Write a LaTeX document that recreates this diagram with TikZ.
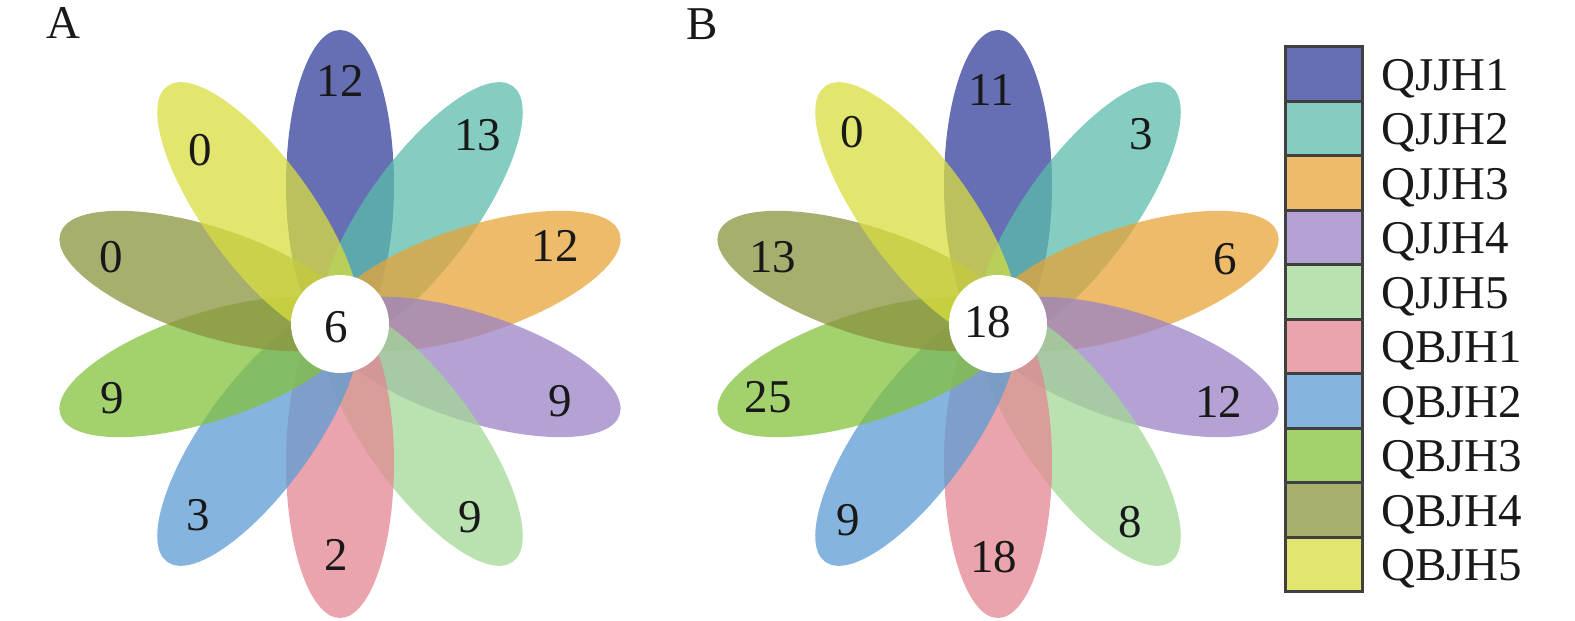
\documentclass[tikz,border=0pt]{standalone}
\usepackage{fontspec}
\setmainfont{Liberation Serif}
\usetikzlibrary{calc}
% petal base colours (drawn with transparency)
\definecolor{c1}{RGB}{51,62,155}
\definecolor{c2}{RGB}{91,188,171}
\definecolor{c3}{RGB}{231,164,56}
\definecolor{c4}{RGB}{155,131,198}
\definecolor{c5}{RGB}{163,216,150}
\definecolor{c6}{RGB}{228,134,147}
\definecolor{c7}{RGB}{92,156,211}
\definecolor{c8}{RGB}{132,194,60}
\definecolor{c9}{RGB}{139,147,62}
\definecolor{c10}{RGB}{216,222,62}
% legend colours (solid)
\definecolor{l1}{RGB}{102,110,180}
\definecolor{l2}{RGB}{132,205,192}
\definecolor{l3}{RGB}{237,187,106}
\definecolor{l4}{RGB}{180,162,212}
\definecolor{l5}{RGB}{186,226,176}
\definecolor{l6}{RGB}{235,164,174}
\definecolor{l7}{RGB}{133,181,222}
\definecolor{l8}{RGB}{163,209,109}
\definecolor{l9}{RGB}{168,174,110}
\definecolor{l10}{RGB}{226,230,110}
\begin{document}
\begin{tikzpicture}[x=0.5pt,y=0.5pt,
  font=\fontsize{23.5}{28}\selectfont,
  num/.style={inner sep=0pt, anchor=center, text=black!90},
  legtext/.style={inner sep=0pt, anchor=base west, text=black!90},
  swatch/.style={fill=#1, draw=black!75, line width=1.5}]
\useasboundingbox (0,0) rectangle (1575,621);
\coordinate (A) at (340,297);
\coordinate (B) at (998,297);
% petals
\foreach \ctr in {A,B}{
  \foreach \c/\ang in {c1/90,c2/54,c3/18,c4/-18,c5/-54,c6/-90,c7/-126,c8/-162,c9/162,c10/126}{
    \fill[\c, fill opacity=.75, shift={(\ctr)}, rotate=\ang] (139,0) ellipse [x radius=155, y radius=54];
  }
  \fill[white] (\ctr) circle [radius=49];
}
% panel letters
\node[num] (labA) at (63,598) {A};
\node[num] (labB) at (702,597) {B};
% numbers, flower A
\node[num] (a0) at (336,293.5) {6};
\node[num] (a1) at ($(A)+(90:243)$) {12};
\node[num] (a2) at ($(A)+(53.9:234)$) {13};
\node[num] (a3) at ($(A)+(20:229)$) {12};
\node[num] (a4) at ($(A)+(-19.3:233)$) {9};
\node[num] (a5) at ($(A)+(-56:233)$) {9};
\node[num] (a6) at ($(A)+(-91:231)$) {2};
\node[num] (a7) at ($(A)+(-126.6:238)$) {3};
\node[num] (a8) at ($(A)+(-162:239)$) {9};
\node[num] (a9) at ($(A)+(163.6:238)$) {0};
\node[num] (a10) at ($(A)+(128.8:223)$) {0};
% numbers, flower B
\node[num] (b0) at (987.5,299) {18};
\node[num] (b1) at ($(B)+(91.7:234)$) {11};
\node[num] (b2) at ($(B)+(53:238)$) {3};
\node[num] (b3) at ($(B)+(16:236)$) {6};
\node[num] (b4) at ($(B)+(-19.5:234)$) {12};
\node[num] (b5) at ($(B)+(-56.3:238)$) {8};
\node[num] (b6) at ($(B)+(-91:233)$) {18};
\node[num] (b7) at ($(B)+(-127.4:247)$) {9};
\node[num] (b8) at ($(B)+(-162.4:241)$) {25};
\node[num] (b9) at ($(B)+(163.4:235)$) {13};
\node[num] (b10) at ($(B)+(127.2:241)$) {0};
% legend
\foreach \i/\name in {1/QJJH1,2/QJJH2,3/QJJH3,4/QJJH4,5/QJJH5,6/QBJH1,7/QBJH2,8/QBJH3,9/QBJH4,10/QBJH5}{
  \path[swatch=l\i] (1285,{574-54.5*(\i-1)}) rectangle (1362,{574-54.5*\i});
  \node[legtext] (t\i) at (1381,{574-54.5*(\i-1)-27.25-16}) {\name};
}
\end{tikzpicture}
\end{document}
